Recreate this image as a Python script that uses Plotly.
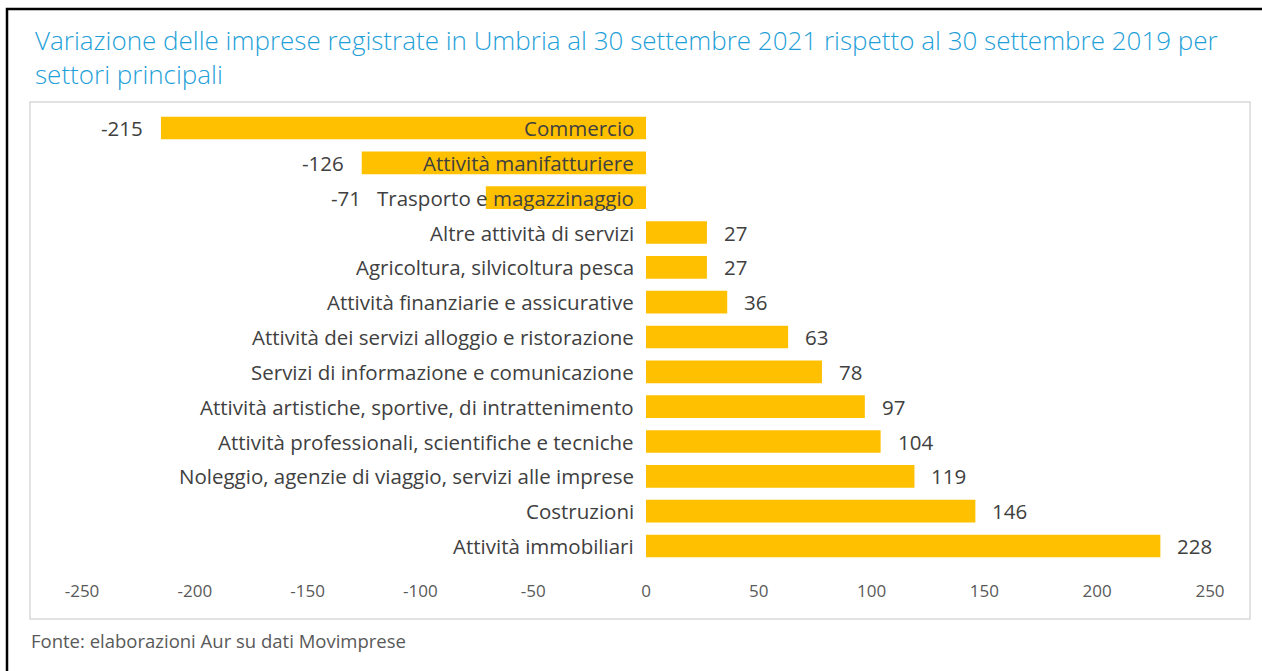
import plotly.graph_objects as go

categories = [
    "Commercio",
    "Attività manifatturiere",
    "Trasporto e magazzinaggio",
    "Altre attività di servizi",
    "Agricoltura, silvicoltura pesca",
    "Attività finanziarie e assicurative",
    "Attività dei servizi alloggio e ristorazione",
    "Servizi di informazione e comunicazione",
    "Attività artistiche, sportive, di intrattenimento",
    "Attività professionali, scientifiche e tecniche",
    "Noleggio, agenzie di viaggio, servizi alle imprese",
    "Costruzioni",
    "Attività immobiliari",
]
values = [-215, -126, -71, 27, 27, 36, 63, 78, 97, 104, 119, 146, 228]
tick_vals = [-250, -200, -150, -100, -50, 0, 50, 100, 150, 200, 250]

title_text = ("Variazione delle imprese registrate in Umbria al 30 settembre 2021 rispetto al 30 settembre 2019 per"
              "<br>settori principali")
source_text = "Fonte: elaborazioni Aur su dati Movimprese"

FONT = "Open Sans"
LABEL_SIZE = 20.5
W, H = 1262, 671
ML, MR, MT, MB = 30, 12, 102, 92
PW = W - ML - MR
PH = H - MT - MB
BOTTOM = MT + PH

x_per_px = 500 / (1210 - 82)
x_lo = -250 - (82 - ML) * x_per_px
x_hi = 250 + ((W - MR) - 1210) * x_per_px

slot = (546 - 128) / 12
y_top = -(128 - MT) / slot
y_bot = 12 + (BOTTOM - 546) / slot

fig = go.Figure()
fig.add_trace(go.Bar(
    x=values,
    y=list(range(len(categories))),
    orientation="h",
    marker=dict(color="#FFC000", line=dict(width=0)),
    hoverinfo="x+text",
    hovertext=categories,
    showlegend=False,
))

annotations = []
for i, (c, v) in enumerate(zip(categories, values)):
    label_font = dict(family=FONT, size=LABEL_SIZE, color="#404040")
    est_label_w = len(c) * 0.52 * LABEL_SIZE
    bar_px = abs(v) / x_per_px
    if v < 0 and bar_px < est_label_w + 10:
        # value label would collide with the category name: put it in front of the name
        annotations.append(dict(
            x=0, y=i, xref="x", yref="y",
            text=f"{v}&nbsp;&nbsp;&nbsp;{c}", showarrow=False,
            xanchor="right", yanchor="middle", xshift=-10, font=label_font,
        ))
        continue
    annotations.append(dict(
        x=0, y=i, xref="x", yref="y", text=c, showarrow=False,
        xanchor="right", yanchor="middle", xshift=-10, font=label_font,
    ))
    annotations.append(dict(
        x=v, y=i, xref="x", yref="y", text=str(v), showarrow=False,
        xanchor="left" if v > 0 else "right", yanchor="middle",
        xshift=15 if v > 0 else -16, font=label_font,
    ))

# title
annotations.append(dict(
    x=(33 - ML) / PW, y=1 + (MT - 57) / PH, xref="paper", yref="paper",
    text=title_text, showarrow=False, xanchor="left", yanchor="middle", align="left",
    font=dict(family=FONT, size=26, color="#1F9FD8", weight=300),
))
# source
annotations.append(dict(
    x=(29 - ML) / PW, y=-(640 - BOTTOM) / PH, xref="paper", yref="paper",
    text=source_text, showarrow=False, xanchor="left", yanchor="middle",
    font=dict(family=FONT, size=18.5, color="#595959"),
))

shapes = [
    # light grey chart-area border
    dict(type="rect", xref="paper", yref="paper",
         x0=0, x1=1, y0=-(619 - BOTTOM) / PH, y1=1,
         line=dict(color="#D9D9D9", width=1.5), fillcolor="rgba(0,0,0,0)", layer="below"),
    # outer black frame
    dict(type="rect", xref="paper", yref="paper",
         x0=(7 - ML) / PW, x1=(1280 - ML) / PW,
         y0=-(700 - BOTTOM) / PH, y1=1 + (MT - 9) / PH,
         line=dict(color="#000000", width=2.5), fillcolor="rgba(0,0,0,0)"),
]

fig.update_layout(
    width=W, height=H,
    margin=dict(l=ML, r=MR, t=MT, b=MB, pad=0),
    paper_bgcolor="white", plot_bgcolor="white",
    bargap=0.35,
    xaxis=dict(
        range=[x_lo, x_hi], tickvals=tick_vals, ticktext=[str(t) for t in tick_vals],
        showgrid=False, zeroline=False, showline=False, ticks="",
        tickfont=dict(family=FONT, size=17, color="#595959"),
        fixedrange=True,
    ),
    yaxis=dict(
        range=[y_bot, y_top], showticklabels=False, showgrid=False,
        zeroline=False, showline=False, ticks="", fixedrange=True,
    ),
    annotations=annotations,
    shapes=shapes,
)

fig.write_html(
    "out.html", config={"displayModeBar": False},
    post_script=("document.body.style.margin='0';"
                 "document.body.style.overflow='hidden';"
                 "document.documentElement.style.overflow='hidden';"),
)
